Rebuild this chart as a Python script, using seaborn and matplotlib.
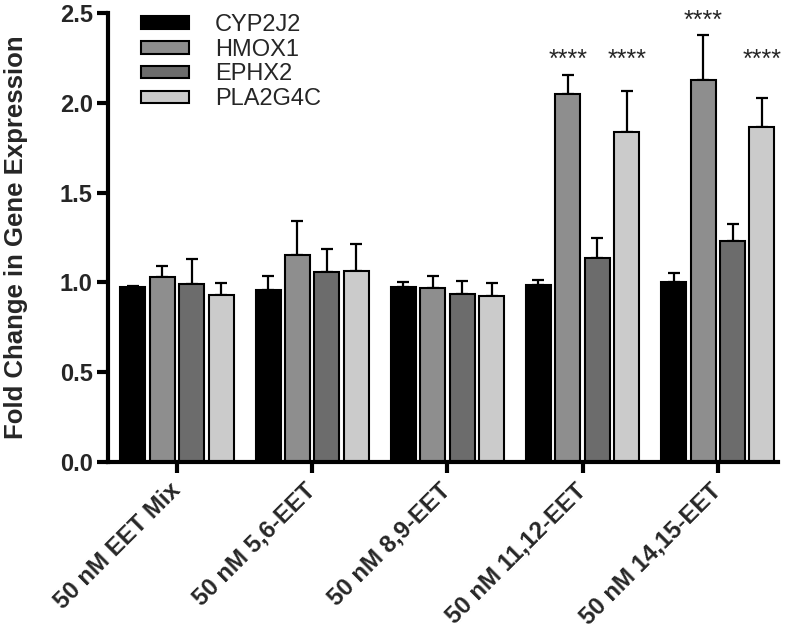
import numpy as np
import pandas as pd
import matplotlib
matplotlib.use("Agg")
import matplotlib.pyplot as plt
from matplotlib.patches import Patch
from matplotlib.container import BarContainer
import matplotlib.transforms as mtransforms
import seaborn as sns

categories = ["50 nM EET Mix", "50 nM 5,6-EET", "50 nM 8,9-EET",
              "50 nM 11,12-EET", "50 nM 14,15-EET"]
genes = ["CYP2J2", "HMOX1", "EPHX2", "PLA2G4C"]

cyp2j2 = [0.972, 0.955, 0.972, 0.985, 1.000]
hmox1 = [1.028, 1.152, 0.968, 2.048, 2.126]
ephx2 = [0.989, 1.057, 0.935, 1.137, 1.228]
pla2g4c = [0.931, 1.063, 0.924, 1.840, 1.866]

cyp2j2_err = [0.009, 0.078, 0.030, 0.028, 0.052]
hmox1_err = [0.065, 0.190, 0.067, 0.107, 0.251]
ephx2_err = [0.139, 0.130, 0.072, 0.108, 0.097]
pla2g4c_err = [0.063, 0.149, 0.072, 0.228, 0.163]

# significance annotations: (category index, gene, label, baseline y)
stars = [(3, "HMOX1", "****", 2.20), (3, "PLA2G4C", "****", 2.20),
         (4, "HMOX1", "****", 2.415), (4, "PLA2G4C", "****", 2.20)]

colors = ["#000000", "#8e8e8e", "#6c6c6c", "#cbcbcb"]
yticks = [0.0, 0.5, 1.0, 1.5, 2.0, 2.5]

means = [cyp2j2, hmox1, ephx2, pla2g4c]
errs = [cyp2j2_err, hmox1_err, ephx2_err, pla2g4c_err]

rows = []
for g, vals in zip(genes, means):
    for c, v in zip(categories, vals):
        rows.append({"cat": c, "gene": g, "val": v})
df = pd.DataFrame(rows)

sns.set_style("white")
plt.rcParams["font.family"] = ["Liberation Sans", "DejaVu Sans"]

fig = plt.figure(figsize=(7.89, 6.37), dpi=100)
ax = fig.add_axes([108 / 789, 1 - 462 / 637, (778 - 108) / 789, (462 - 13) / 637])

sns.barplot(data=df, x="cat", y="val", hue="gene", order=categories,
            hue_order=genes, palette=colors, errorbar=None, width=0.87,
            gap=0.15, edgecolor="black", linewidth=1.5, legend=False,
            saturation=1, ax=ax, zorder=2)

bar_containers = [c for c in ax.containers if isinstance(c, BarContainer)]
centers = {}
for gi, cont in enumerate(bar_containers):
    xs = [p.get_x() + p.get_width() / 2 for p in cont.patches]
    for ci, x in enumerate(xs):
        centers[(ci, genes[gi])] = x
    ax.errorbar(xs, means[gi], yerr=[np.zeros(len(xs)), errs[gi]], fmt="none",
                ecolor="black", elinewidth=1.6, capsize=4, capthick=1.6, zorder=1)

for ci, g, lab, y in stars:
    ax.text(centers[(ci, g)], y, lab, ha="center", va="baseline", fontsize=18)

ax.set_ylim(0, 2.5)
ax.set_xlim(-0.51, 4.445)
ax.set_yticks(yticks)
ax.set_yticklabels([f"{t:.1f}" for t in yticks], fontsize=17, fontweight="bold")
ax.set_xticks(range(len(categories)))
ax.set_xticklabels(categories, rotation=45, ha="right", va="center",
                   rotation_mode="anchor", fontsize=17.3, fontweight="bold")
offset = mtransforms.ScaledTranslation(5 / 100, 3 / 100, fig.dpi_scale_trans)
for lbl in ax.get_xticklabels():
    lbl.set_transform(lbl.get_transform() + offset)
ax.set_xlabel("")
ax.set_ylabel("Fold Change in Gene Expression", fontsize=18.5, fontweight="bold",
              labelpad=23)
for s in ["top", "right"]:
    ax.spines[s].set_visible(False)
for s in ["left", "bottom"]:
    ax.spines[s].set_linewidth(3)
    ax.spines[s].set_color("black")
ax.tick_params(axis="both", direction="out", length=8, width=3, color="black",
               left=True, bottom=True)
ax.tick_params(axis="y", pad=3)
ax.tick_params(axis="x", pad=10)

handles = [Patch(facecolor=c, edgecolor="black", linewidth=1.5, label=g)
           for c, g in zip(colors, genes)]
fig.legend(handles=handles, loc="upper left",
           bbox_to_anchor=(129 / 789, 1 - 2 / 637), frameon=False,
           fontsize=17, borderpad=0, handlelength=2.05, handleheight=0.45,
           handletextpad=1.1, labelspacing=0.12)

fig.savefig("out.png", dpi=100)
